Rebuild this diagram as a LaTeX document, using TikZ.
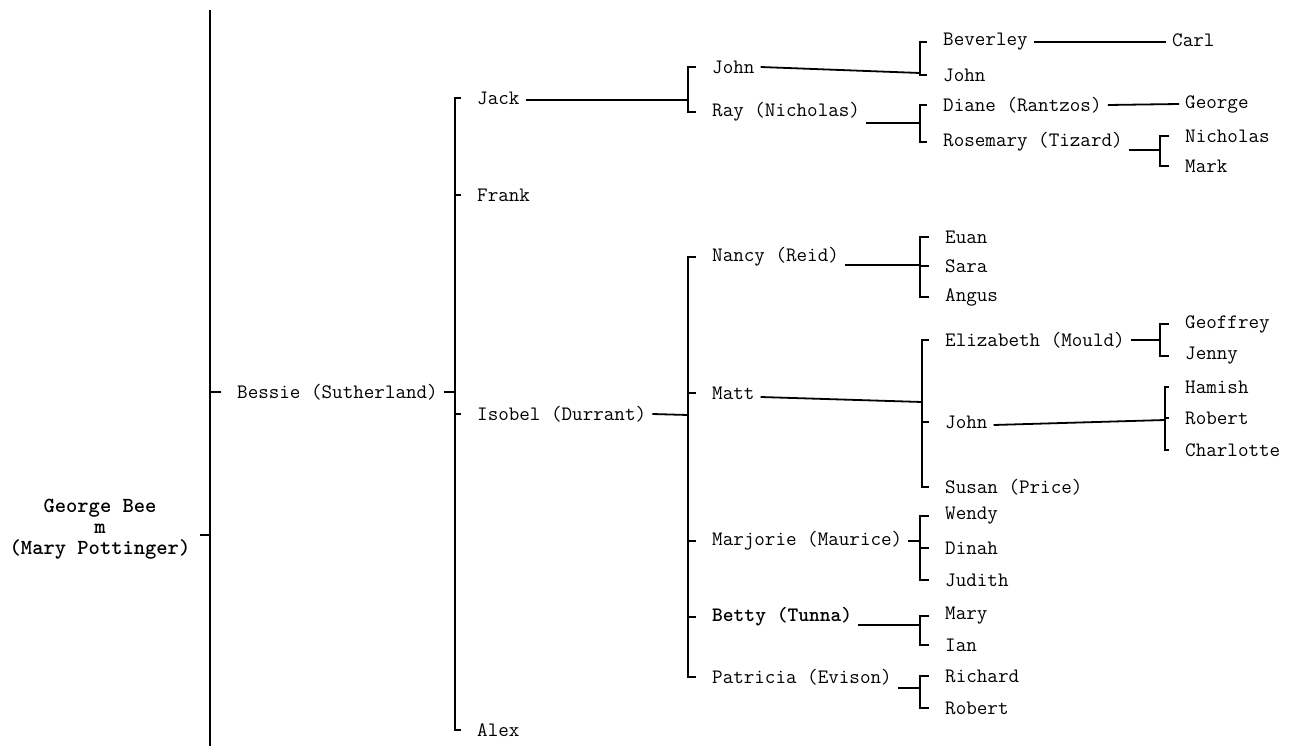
\documentclass[tikz,border=0pt]{standalone}
\usepackage{fontspec}
\begin{document}
\begin{tikzpicture}[x=1pt,y=-1pt,
 pers/.style={anchor=west,inner xsep=6pt,inner ysep=2pt,font=\ttfamily\fontsize{20.5}{22}\selectfont},
 lin/.style={line width=1.8pt},
 tk/.style={lin,shorten <=10pt},
 br/.style={lin,shorten <=10pt,shorten >=10pt}]
\useasboundingbox (0,0) rectangle (1303,746);

% root
\node[align=center,font=\ttfamily\bfseries\fontsize{21.5}{21}\selectfont] (gb) at (100,529) {George Bee\\m\\(Mary Pottinger)};
\coordinate (s0t) at (210,10);
\coordinate (s0b) at (210,746);
\coordinate (gbt) at (200,535);
\draw[lin,line width=2.4pt] (s0t) -- (s0b);
\draw[lin] (gbt) -- (gbt -| s0t);

% Bessie
\node[pers] (bessie) at (231,392) {Bessie (Sutherland)};
\draw[tk] (bessie.west) -- (bessie.west -| s0t);
\coordinate (s1) at (455,0);
\draw[lin] (bessie.east) -- (bessie.east -| s1);

\node[pers] (jack) at (471,98) {Jack};
\node[pers] (frank) at (471,195) {Frank};
\node[pers] (isobel) at (471,414) {Isobel (Durrant)};
\node[pers] (alex) at (471,730) {Alex};
\draw[br] (jack.west) -- (jack.west -| s1) -- (alex.west -| s1) -- (alex.west);
\draw[tk] (frank.west) -- (frank.west -| s1);
\draw[tk] (isobel.west) -- (isobel.west -| s1);

% Jack's line
\coordinate (s2) at (688,0);
\coordinate (jkb) at (688,100);
\draw[lin] (jack.east |- jkb) -- (jkb);
\node[pers] (john) at (706,67) {John};
\node[pers] (ray) at (706,112) {Ray (Nicholas)};
\draw[br] (john.west) -- (john.west -| s2) -- (ray.west -| s2) -- (ray.west);

\coordinate (jb) at (920,73);
\draw[lin] (john.east) -- (jb);
\node[pers] (bev) at (937,42) {Beverley};
\node[pers] (johnb) at (937,75) {John};
\draw[br] (bev.west) -- (bev.west -| jb) -- (johnb.west -| jb) -- (johnb.west);
\node[pers] (carl) at (1166,40) {Carl};
\draw[lin] (bev.east) -- (carl.west |- bev.east);

\coordinate (rb) at (920,123);
\draw[lin] (ray.east |- rb) -- (rb);
\node[pers] (diane) at (937,105) {Diane (Rantzos)};
\node[pers] (rose) at (937,142) {Rosemary (Tizard)};
\draw[br] (diane.west) -- (diane.west -| rb) -- (rose.west -| rb) -- (rose.west);
\node[pers] (geob) at (1179,104) {George};
\draw[lin] (diane.east) -- (geob.west);

\coordinate (rsb) at (1160,150);
\draw[lin] (rose.east |- rsb) -- (rsb);
\node[pers] (nich) at (1179,136) {Nicholas};
\node[pers] (mark) at (1179,166) {Mark};
\draw[br] (nich.west) -- (nich.west -| rsb) -- (mark.west -| rsb) -- (mark.west);

% Isobel's line
\coordinate (isb) at (688,415);
\draw[lin] (isobel.east) -- (isb);
\node[pers] (nancy) at (706,257) {Nancy (Reid)};
\node[pers] (matt) at (706,393) {Matt};
\node[pers] (marj) at (706,541) {Marjorie (Maurice)};
\node[pers,font=\ttfamily\bfseries\fontsize{20.5}{22}\selectfont] (betty) at (706,617) {Betty (Tunna)};
\node[pers] (pat) at (706,677) {Patricia (Evison)};
\draw[br] (nancy.west) -- (nancy.west -| s2) -- (pat.west -| s2) -- (pat.west);
\draw[tk] (matt.west) -- (matt.west -| s2);
\draw[tk] (marj.west) -- (marj.west -| s2);
\draw[tk] (betty.west) -- (betty.west -| s2);

% Nancy
\coordinate (nb) at (920,265);
\draw[lin] (nancy.east |- nb) -- (nb);
\node[pers] (euan) at (939,237) {Euan};
\node[pers] (sara) at (939,266) {Sara};
\node[pers] (angus) at (939,297) {Angus};
\draw[br] (euan.west) -- (euan.west -| nb) -- (angus.west -| nb) -- (angus.west);
\draw[tk] (sara.west) -- (sara.west -| nb);

% Matt
\coordinate (mb) at (922,402);
\draw[lin] (matt.east |- 0,397) -- (mb);
\node[pers] (eliz) at (939,340) {Elizabeth (Mould)};
\node[pers] (johnc) at (939,422) {John};
\node[pers] (susan) at (939,487) {Susan (Price)};
\draw[br] (eliz.west) -- (eliz.west -| mb) -- (susan.west -| mb) -- (susan.west);
\draw[tk] (johnc.west) -- (johnc.west -| mb);

\coordinate (eb) at (1160,340);
\draw[lin] (eliz.east) -- (eb);
\node[pers] (geof) at (1179,324) {Geoffrey};
\node[pers] (jenny) at (1179,356) {Jenny};
\draw[br] (geof.west) -- (geof.west -| eb) -- (jenny.west -| eb) -- (jenny.west);

\coordinate (j3b) at (1165,420);
\draw[lin] (johnc.east |- 0,425) -- (j3b);
\node[pers] (hamish) at (1179,387) {Hamish};
\node[pers] (robb) at (1179,418) {Robert};
\node[pers] (charl) at (1179,450) {Charlotte};
\draw[br] (hamish.west) -- (hamish.west -| j3b) -- (charl.west -| j3b) -- (charl.west);
\draw[tk] (robb.west) -- (robb.west -| j3b);

% Marjorie
\coordinate (mjb) at (920,541);
\draw[lin] (marj.east) -- (mjb);
\node[pers] (wendy) at (939,516) {Wendy};
\node[pers] (dinah) at (939,548) {Dinah};
\node[pers] (judith) at (939,580) {Judith};
\draw[br] (wendy.west) -- (wendy.west -| mjb) -- (judith.west -| mjb) -- (judith.west);
\draw[tk] (dinah.west) -- (dinah.west -| mjb);

% Betty
\coordinate (btb) at (920,625);
\draw[lin] (betty.east |- btb) -- (btb);
\node[pers] (mary) at (939,616) {Mary};
\node[pers] (ian) at (939,645) {Ian};
\draw[br] (mary.west) -- (mary.west -| btb) -- (ian.west -| btb) -- (ian.west);

% Patricia
\coordinate (ptb) at (920,688);
\draw[lin] (pat.east |- ptb) -- (ptb);
\node[pers] (rich) at (939,676) {Richard};
\node[pers] (robc) at (939,708) {Robert};
\draw[br] (rich.west) -- (rich.west -| ptb) -- (robc.west -| ptb) -- (robc.west);
\end{tikzpicture}
\end{document}
